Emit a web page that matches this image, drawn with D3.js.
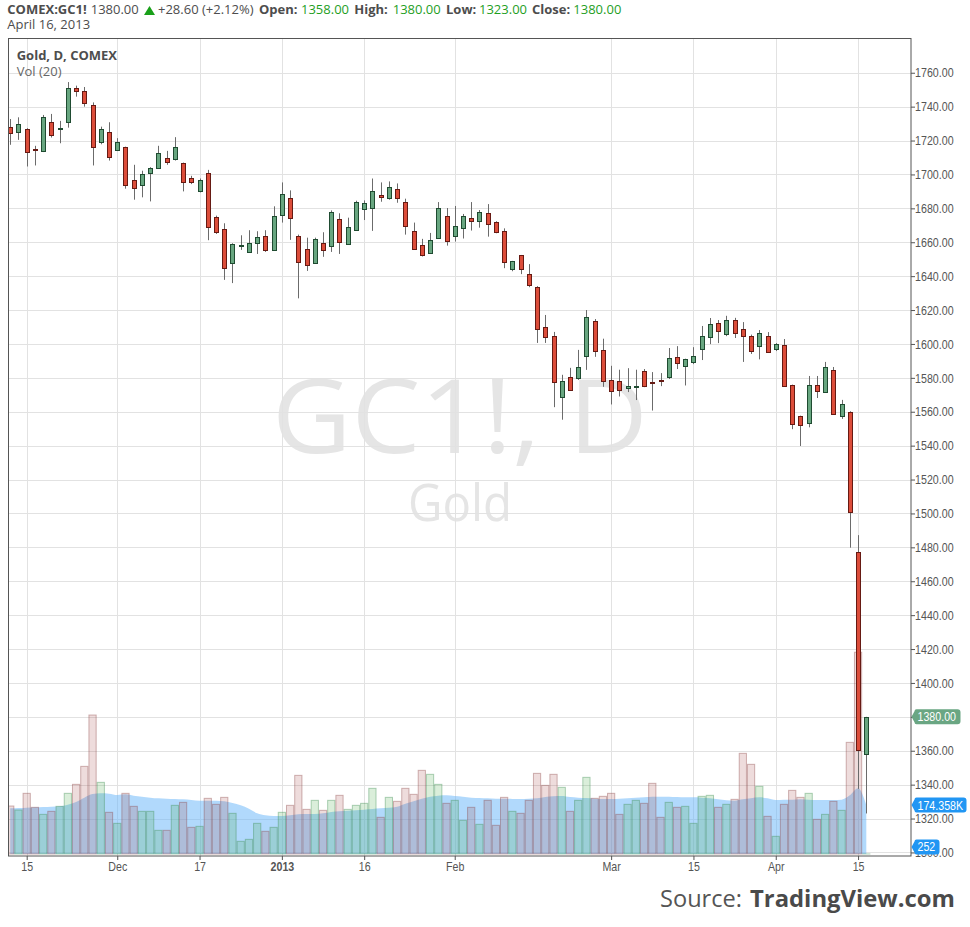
<!DOCTYPE html>
<html><head><meta charset="utf-8">
<script src="https://cdn.jsdelivr.net/npm/d3@7"></script>
<style>body{margin:0;background:#fff}svg{display:block}</style>
</head><body>
<svg id="c" width="970" height="927"></svg>
<script>
const dates = ["2012-11-13","2012-11-14","2012-11-15","2012-11-16","2012-11-19","2012-11-20","2012-11-21","2012-11-23","2012-11-26","2012-11-27","2012-11-28","2012-11-29","2012-11-30","2012-12-03","2012-12-04","2012-12-05","2012-12-06","2012-12-07","2012-12-10","2012-12-11","2012-12-12","2012-12-13","2012-12-14","2012-12-17","2012-12-18","2012-12-19","2012-12-20","2012-12-21","2012-12-24","2012-12-26","2012-12-27","2012-12-28","2012-12-31","2013-01-02","2013-01-03","2013-01-04","2013-01-07","2013-01-08","2013-01-09","2013-01-10","2013-01-11","2013-01-14","2013-01-15","2013-01-16","2013-01-17","2013-01-18","2013-01-22","2013-01-23","2013-01-24","2013-01-25","2013-01-28","2013-01-29","2013-01-30","2013-01-31","2013-02-01","2013-02-04","2013-02-05","2013-02-06","2013-02-07","2013-02-08","2013-02-11","2013-02-12","2013-02-13","2013-02-14","2013-02-15","2013-02-19","2013-02-20","2013-02-21","2013-02-22","2013-02-25","2013-02-26","2013-02-27","2013-02-28","2013-03-01","2013-03-04","2013-03-05","2013-03-06","2013-03-07","2013-03-08","2013-03-11","2013-03-12","2013-03-13","2013-03-14","2013-03-15","2013-03-18","2013-03-19","2013-03-20","2013-03-21","2013-03-22","2013-03-25","2013-03-26","2013-03-27","2013-03-28","2013-04-01","2013-04-02","2013-04-03","2013-04-04","2013-04-05","2013-04-08","2013-04-09","2013-04-10","2013-04-11","2013-04-12","2013-04-15","2013-04-16"];

const open = [1728.2,1724.9,1726.7,1714.9,1713.7,1730.8,1727.0,1730.8,1750.8,1749.0,
1741.0,1719.0,1724.9,1714.3,1716.1,1696.7,1693.5,1700.6,1703.7,1709.6,
1709.4,1706.7,1697.8,1690.0,1700.8,1675.1,1668.0,1648.0,1657.5,1654.5,
1659.8,1663.9,1655.7,1676.3,1686.3,1663.9,1656.3,1647.5,1659.8,1658.0,
1673.9,1659.2,1667.5,1679.8,1680.4,1687.6,1686.3,1691.6,1683.9,1666.9,
1658.2,1653.9,1662.4,1675.3,1663.9,1668.2,1674.1,1672.4,1677.1,1671.8,
1666.5,1644.1,1652.4,1641.2,1633.5,1610.0,1604.7,1568.8,1580.6,1580.0,
1592.9,1613.5,1596.4,1578.7,1578.1,1574.3,1575.0,1584.0,1577.5,1578.9,
1580.4,1592.2,1587.0,1589.3,1597.0,1604.1,1612.3,1605.9,1614.1,1608.8,
1604.7,1598.8,1604.7,1597.0,1599.4,1575.8,1557.5,1553.4,1575.8,1571.7,
1584.6,1557.5,1560.0,1477.4,1358.0];
const high = [1732.7,1733.7,1727.3,1716.9,1735.1,1735.7,1731.6,1754.5,1752.4,1751.6,
1742.5,1728.2,1730.8,1721.4,1716.4,1705.7,1702.2,1704.3,1716.9,1713.9,
1722.0,1707.0,1699.2,1697.6,1702.7,1675.7,1671.2,1659.4,1664.1,1667.1,
1666.5,1667.1,1681.2,1695.3,1690.6,1664.5,1662.7,1662.7,1665.9,1678.8,
1677.1,1674.5,1684.5,1684.7,1697.6,1695.3,1695.9,1694.7,1685.7,1671.6,
1662.0,1665.5,1683.7,1680.2,1681.4,1676.7,1683.7,1679.0,1682.5,1672.4,
1668.2,1649.0,1652.5,1647.1,1634.1,1617.1,1607.1,1581.8,1585.9,1596.5,
1620.0,1614.7,1603.1,1587.1,1584.8,1585.7,1584.8,1585.2,1583.4,1582.8,
1597.6,1598.7,1591.3,1598.1,1610.6,1615.3,1614.1,1616.6,1615.4,1612.9,
1605.5,1608.2,1607.0,1600.5,1602.9,1576.0,1557.7,1581.1,1581.1,1589.4,
1586.4,1567.0,1560.3,1487.2,1380.0];
const low = [1717.5,1720.4,1704.7,1705.3,1713.2,1721.8,1718.4,1727.6,1745.9,1740.0,
1705.3,1717.8,1708.2,1713.8,1691.6,1685.1,1686.5,1684.1,1703.5,1705.7,
1708.2,1690.0,1694.3,1689.4,1661.2,1664.9,1637.8,1635.9,1655.5,1654.0,
1653.1,1654.3,1655.5,1671.6,1661.4,1626.9,1643.1,1647.3,1651.4,1654.3,
1653.1,1659.0,1666.7,1673.1,1666.7,1683.9,1685.1,1683.3,1664.5,1655.7,
1651.6,1653.7,1662.2,1658.0,1660.4,1662.2,1666.9,1668.6,1663.3,1665.3,
1644.7,1642.9,1641.2,1633.5,1600.6,1600.6,1562.7,1555.3,1572.7,1578.8,
1584.7,1592.4,1574.7,1564.3,1569.0,1571.6,1566.9,1574.5,1560.7,1575.1,
1579.3,1585.2,1575.5,1588.1,1590.5,1599.9,1600.5,1604.6,1603.5,1589.4,
1594.1,1590.9,1594.7,1595.8,1575.0,1549.7,1539.8,1550.8,1568.1,1571.1,
1558.1,1555.8,1479.8,1337.5,1323.0];
const close = [1724.3,1729.6,1713.1,1714.3,1733.7,1723.1,1727.6,1750.8,1749.0,1742.0,
1716.1,1726.7,1710.2,1719.2,1693.5,1692.0,1700.2,1703.7,1712.5,1707.6,
1716.1,1695.3,1695.3,1696.7,1669.0,1666.1,1645.1,1659.2,1658.6,1659.8,
1663.3,1655.7,1675.7,1688.6,1674.5,1648.6,1646.3,1662.2,1655.7,1678.0,
1660.4,1669.2,1683.9,1683.3,1690.4,1686.9,1692.7,1686.3,1669.8,1656.3,
1652.7,1661.2,1680.0,1660.6,1669.4,1675.3,1672.4,1677.6,1670.6,1665.9,
1648.2,1648.8,1644.1,1634.7,1608.8,1604.1,1577.6,1578.2,1572.9,1586.5,
1615.9,1595.9,1578.1,1572.2,1572.8,1575.1,1575.2,1575.1,1576.7,1578.1,
1591.7,1588.7,1591.1,1592.8,1604.6,1611.7,1607.6,1614.1,1606.4,1604.7,
1595.8,1606.4,1595.2,1600.0,1575.2,1552.8,1552.2,1575.8,1572.3,1586.4,
1558.7,1564.6,1500.6,1360.4,1380.0];
// volume in thousands of contracts
const volume = [170.8,156.6,215.9,166.1,141.1,151.8,169.6,215.9,247.9,311.9,
494.6,255.0,148.3,109.1,215.9,169.6,151.8,151.8,84.2,84.2,
173.2,183.8,94.9,98.4,198.1,176.7,201.6,144.7,45.1,52.2,
109.1,80.7,94.9,148.3,173.2,279.9,158.9,191.0,155.4,191.0,
208.8,158.9,173.2,180.3,233.7,130.5,201.6,187.4,233.7,212.3,
297.7,283.5,247.9,180.3,191.0,119.8,166.1,105.6,191.0,102.0,
201.6,151.8,144.7,191.0,287.0,244.3,283.5,237.2,151.8,191.0,
272.8,198.1,205.2,215.9,141.1,176.7,191.0,180.3,251.5,130.5,
183.8,166.1,169.6,109.1,205.2,208.8,166.1,176.7,194.5,358.2,
319.1,240.8,134.0,62.9,176.7,226.5,201.6,215.9,123.4,141.1,
187.4,155.4,397.3,718.0,0.252];
// Vol (20) moving-average line (thousands)
const volMA = [162.5,163.7,164.9,166.1,167.2,168.4,169.6,175.5,185.0,200.5,
213.5,215.9,214.7,209.9,212.3,207.6,204.0,200.5,198.1,196.9,
195.7,194.5,192.1,189.8,189.8,189.8,187.4,181.5,173.2,161.3,
144.7,137.6,135.2,135.2,137.6,141.1,142.3,142.3,144.7,149.4,
151.8,154.2,155.4,157.7,160.1,162.5,164.9,168.4,179.1,187.4,
196.9,204.0,207.6,208.8,206.4,204.0,200.5,199.3,198.1,196.9,
196.9,195.7,195.7,196.9,198.1,202.8,205.2,206.4,202.8,200.5,
199.3,196.9,195.7,195.7,196.9,198.1,200.5,201.6,204.0,204.0,
204.0,202.8,201.6,201.6,200.5,198.1,194.5,191.0,189.8,194.5,
198.1,201.6,198.1,192.1,193.3,193.3,194.5,193.3,192.1,192.1,
192.1,193.3,208.8,233.7,174.358];

const priceTicks = d3.range(1300, 1761, 20);
const xTickDates = ["2012-11-15","2012-12-03","2012-12-17","2013-01-02","2013-01-16","2013-02-01","2013-03-01","2013-03-15","2013-04-01","2013-04-15"];
const xTickLabels = ["15","Dec","17","2013","16","Feb","Mar","15","Apr","15"];

const svg = d3.select("#c");
const L = 8.5, R = 911, T = 38, B = 856;
const SX = 0.82;
const x = d3.scaleLinear().domain([-0.211, 109.43]).range([L, R]);
const y = d3.scaleLinear().domain([1297.9, 1780.5]).range([B, T]);
const yVol = d3.scaleLinear().domain([0, 1000]).range([854, 573]);
const idx = d => dates.indexOf(d);

function txt(g, px, py, s, o) {
  o = o || {};
  return g.append("text")
    .attr("transform", `translate(${px},${py}) scale(${o.sx || 1},1)`)
    .attr("font-family", o.font || "'Open Sans', sans-serif")
    .attr("font-size", o.size || 13)
    .attr("font-weight", o.weight || "normal")
    .attr("fill", o.fill || "#4d4d4d")
    .attr("text-anchor", o.anchor || "start")
    .text(s);
}

// header
const last = dates.length - 1;
const hdr = svg.append("g");
const green = "#1fa01f";
txt(hdr, 7.3, 14, "COMEX:GC1!", {weight: "bold"});
txt(hdr, 90.7, 14, close[last].toFixed(2));
hdr.append("path").attr("d", "M144,15 L155,15 L149.5,6 Z").attr("fill", "#19a019");
txt(hdr, 158, 14, "+28.60 (+2.12%)");
const fields = [["Open:", 259, open, 301], ["High:", 354.3, high, 392.7], ["Low:", 446, low, 479], ["Close:", 532, close, 573.3]];
fields.forEach(f => {
  txt(hdr, f[1], 14, f[0], {weight: "bold"});
  txt(hdr, f[3], 14, f[2][last].toFixed(2), {fill: green});
});
txt(hdr, 7.3, 29.3, "April 16, 2013");

// clip
svg.append("defs").append("clipPath").attr("id", "plot")
  .append("rect").attr("x", L).attr("y", T).attr("width", R - L).attr("height", B - T);

const plot = svg.append("g").attr("clip-path", "url(#plot)");

// watermark
plot.append("text").attr("x", 272).attr("y", 453).attr("font-family", "'Open Sans', sans-serif")
  .attr("font-size", 102).attr("fill", "#e5e5e5").attr("textLength", 376).attr("lengthAdjust", "spacingAndGlyphs").text("GC1!, D");
plot.append("text").attr("x", 408).attr("y", 521).attr("font-family", "'Open Sans', sans-serif")
  .attr("font-size", 52).attr("fill", "#e5e5e5").attr("textLength", 104).attr("lengthAdjust", "spacingAndGlyphs").text("Gold");

// grid
plot.append("g").selectAll("line").data(priceTicks).join("line")
  .attr("x1", L).attr("x2", R)
  .attr("y1", d => Math.round(y(d)) + 0.5).attr("y2", d => Math.round(y(d)) + 0.5)
  .attr("stroke", "#e2e2e2").attr("stroke-width", 1);
plot.append("g").selectAll("line").data(xTickDates).join("line")
  .attr("y1", T).attr("y2", B)
  .attr("x1", d => Math.round(x(idx(d))) + 0.5).attr("x2", d => Math.round(x(idx(d))) + 0.5)
  .attr("stroke", "#e2e2e2").attr("stroke-width", 1);

// volume MA area
const ii = d3.range(dates.length);
plot.append("path").datum(ii)
  .attr("d", d3.area().x(i => x(i)).y0(yVol(0)).y1(i => yVol(volMA[i])).curve(d3.curveMonotoneX))
  .attr("fill", "rgba(100,180,250,0.5)");

// volume bars
const step = x(1) - x(0);
plot.append("g").selectAll("rect").data(ii).join("rect")
  .attr("x", i => x(i) - step / 2 + 0.5)
  .attr("width", step - 1)
  .attr("y", i => yVol(volume[i]))
  .attr("height", i => yVol(0) - yVol(volume[i]))
  .attr("fill", i => close[i] >= open[i] ? "rgba(70,170,70,0.2)" : "rgba(160,60,60,0.18)")
  .attr("stroke", i => close[i] >= open[i] ? "rgba(60,140,80,0.4)" : "rgba(140,70,70,0.4)")
  .attr("stroke-width", 1);

// candles
const cg = plot.append("g");
ii.forEach(i => {
  const cx = Math.round(x(i));
  const up = close[i] >= open[i];
  cg.append("line").attr("x1", cx + 0.5).attr("x2", cx + 0.5)
    .attr("y1", y(high[i])).attr("y2", y(low[i])).attr("stroke", "#6b6b6b").attr("stroke-width", 1);
  const t = Math.round(y(Math.max(open[i], close[i])));
  const b = Math.round(y(Math.min(open[i], close[i])));
  cg.append("rect").attr("x", cx - 1.5).attr("width", 4)
    .attr("y", t + 0.5).attr("height", Math.max(1, b - t))
    .attr("fill", up ? "#68a680" : "#dc4d3a")
    .attr("stroke", up ? "#1f4b31" : "#661a13").attr("stroke-width", 1);
});

// frame
svg.append("rect").attr("x", L).attr("y", T + 0.5).attr("width", R - L).attr("height", B - T - 0.5)
  .attr("fill", "none").attr("stroke", "#555").attr("stroke-width", 1);

// right axis (the tick hidden under the last-price tag is left unlabeled)
const ya = svg.append("g").attr("transform", `translate(${R},0)`)
  .call(d3.axisRight(y).tickValues(priceTicks).tickSize(4).tickPadding(1)
    .tickFormat(d => d === close[last] ? "" : d3.format(".2f")(d)));
ya.select(".domain").remove();
ya.selectAll("line").attr("stroke", "#555");
ya.selectAll("text").attr("font-family", "'Liberation Sans', Arial, sans-serif").attr("font-size", 13)
  .attr("fill", "#555").attr("transform", `scale(${SX},1)`);

// bottom axis
const xa = svg.append("g").attr("transform", `translate(0,${B})`)
  .call(d3.axisBottom(x).tickValues(xTickDates.map(idx)).tickSize(4).tickPadding(2)
    .tickFormat((d, k) => xTickLabels[k]));
xa.select(".domain").remove();
xa.selectAll("line").attr("stroke", "#555");
xa.selectAll("text").attr("font-family", "'Liberation Sans', Arial, sans-serif").attr("font-size", 13)
  .attr("fill", "#555").attr("transform", `scale(${SX},1)`)
  .attr("font-weight", (d, k) => xTickLabels[k] === "2013" ? "bold" : "normal");

// legend inside plot
txt(svg, 16.7, 60, "Gold, D, COMEX", {weight: "bold", size: 13});
txt(svg, 16.7, 76, "Vol (20)", {size: 13, fill: "#666"});

// last value labels
function tag(yc, w, fill, s) {
  const x0 = 911.5, h = 15, r = 3, y0 = yc - h / 2;
  const g = svg.append("g");
  g.append("path").attr("d",
    `M${x0},${yc} L${x0 + 3},${y0 + 2} Q${x0 + 3},${y0} ${x0 + 5},${y0} L${x0 + w - r},${y0} Q${x0 + w},${y0} ${x0 + w},${y0 + r} L${x0 + w},${y0 + h - r} Q${x0 + w},${y0 + h} ${x0 + w - r},${y0 + h} L${x0 + 5},${y0 + h} Q${x0 + 3},${y0 + h} ${x0 + 3},${y0 + h - 2} Z`)
    .attr("fill", fill);
  txt(g, x0 + 6, yc + 4.5, s, {font: "'Liberation Sans', Arial, sans-serif", size: 13, fill: "#fff", sx: SX});
}
tag(y(close[last]), 49, "#6aa683", close[last].toFixed(2));
tag(yVol(volMA[last]), 55, "#2196f3", volMA[last].toFixed(3) + "K");
tag(Math.min(yVol(volume[last]) - 7, 847), 28, "#2196f3", String(Math.round(volume[last] * 1000)));

// source
svg.append("text").attr("x", 660).attr("y", 907).attr("font-family", "'Open Sans', sans-serif")
  .attr("font-size", 23).attr("fill", "#555").attr("textLength", 82).attr("lengthAdjust", "spacingAndGlyphs").text("Source:");
svg.append("text").attr("x", 750).attr("y", 907).attr("font-family", "'Open Sans', sans-serif")
  .attr("font-size", 23).attr("font-weight", "bold").attr("fill", "#4a4a4a").attr("textLength", 205).attr("lengthAdjust", "spacingAndGlyphs").text("TradingView.com");
</script>
</body></html>
